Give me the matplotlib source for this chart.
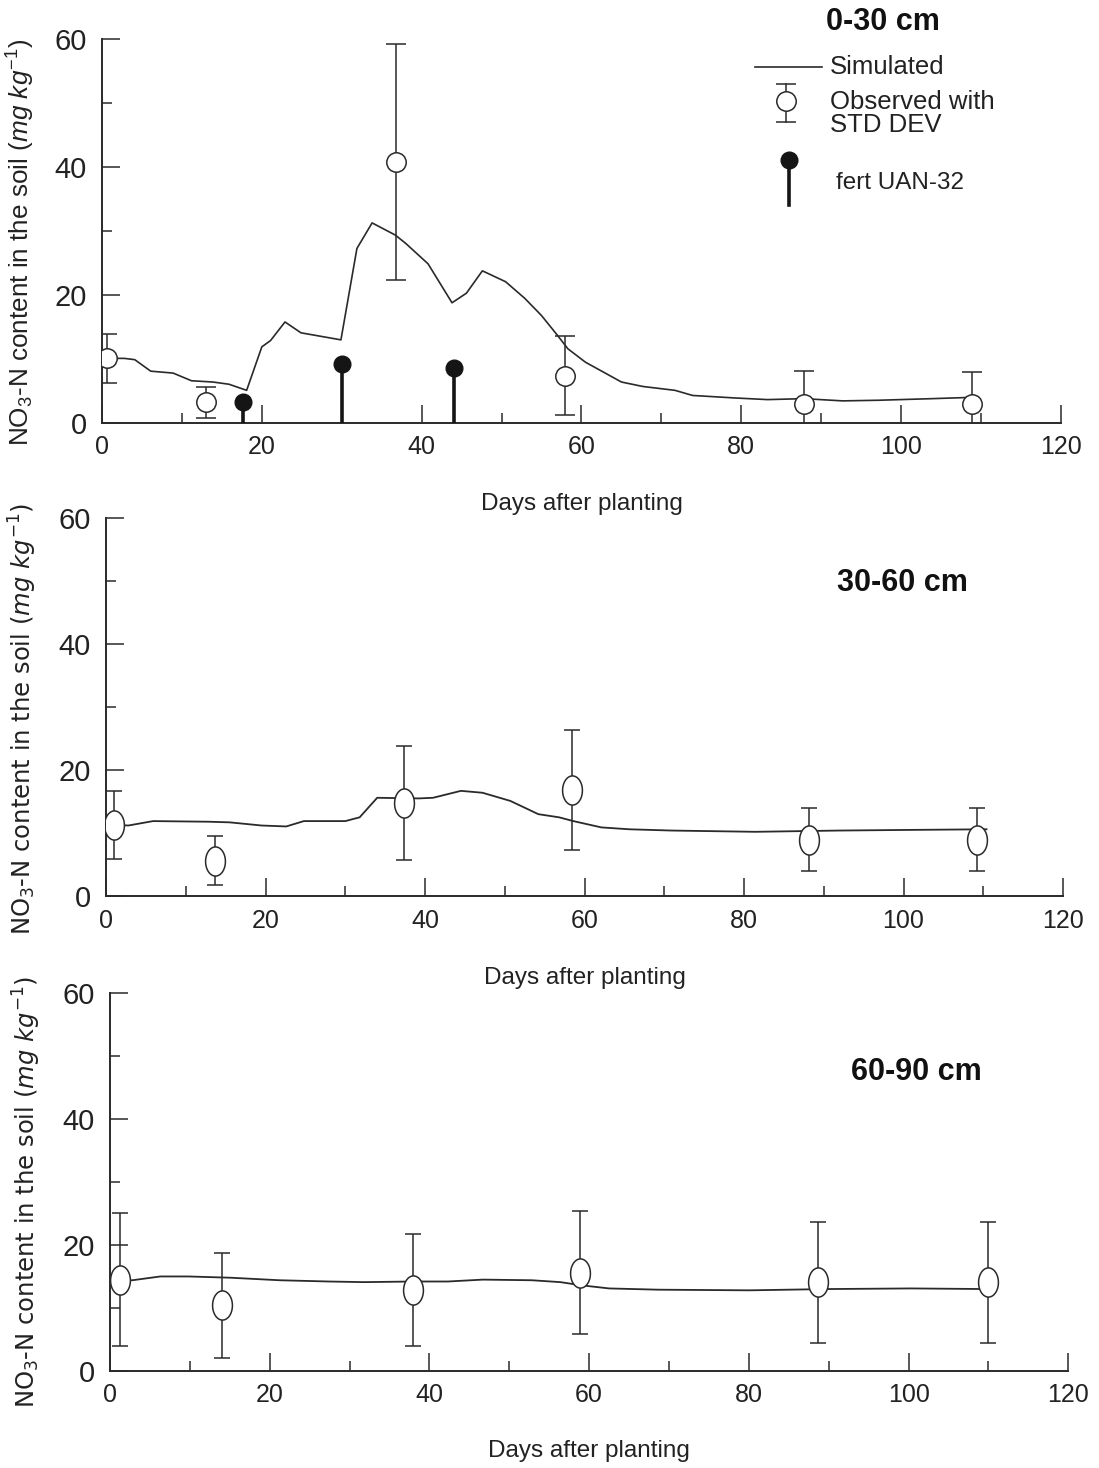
import numpy as np
import matplotlib
matplotlib.use("Agg")
import matplotlib.pyplot as plt
from matplotlib.path import Path
from matplotlib import font_manager

# ---- data ----
x_ticks = [0, 20, 40, 60, 80, 100, 120]
y_ticks = [0, 20, 40, 60]

# 0-30 cm
sim1_day = [0.4, 2.8, 4.1, 6.1, 8.9, 11.2, 13.9, 15.9, 18.1, 20.0, 21.1, 22.9, 24.9, 29.9,
            31.9, 33.8, 36.7, 38.0, 40.8, 43.8, 45.6, 47.6, 50.5, 52.9, 55.0, 57.0, 58.3,
            60.5, 65.0, 67.7, 71.7, 73.9, 79.3, 83.3, 87.8, 92.7, 97.2, 103.9, 108.8]
sim1_no3 = [10.1, 10.1, 9.9, 8.1, 7.8, 6.6, 6.4, 6.05, 5.1, 11.9, 12.9, 15.8, 14.1, 13.0,
            27.3, 31.3, 29.4, 28.1, 24.9, 18.8, 20.3, 23.8, 22.1, 19.5, 16.8, 13.7, 11.6,
            9.5, 6.4, 5.7, 5.1, 4.3, 3.9, 3.65, 3.8, 3.45, 3.55, 3.8, 4.0]
obs1_day = [0.6, 13.0, 36.8, 57.9, 87.8, 108.9]
obs1_no3 = [10.1, 3.2, 40.8, 7.4, 3.0, 2.9]
obs1_std = [3.8, 2.5, 18.5, 6.2, 5.1, 5.0]
fert_day = [17.6, 30.0, 44.1]
fert_amt = [3.2, 9.2, 8.6]

# 30-60 cm
sim2_day = [1.0, 2.8, 5.9, 12.9, 15.5, 19.5, 22.6, 24.8, 30.0, 31.8, 34.0, 39.2, 41.0,
            44.5, 47.2, 50.7, 54.2, 56.8, 58.6, 62.1, 65.6, 70.9, 81.4, 91.9, 100.7, 110.4]
sim2_no3 = [11.3, 11.2, 11.9, 11.8, 11.7, 11.2, 11.05, 11.9, 11.9, 12.5, 15.6, 15.5, 15.6,
            16.7, 16.4, 15.1, 13.0, 12.5, 11.9, 10.9, 10.6, 10.4, 10.2, 10.4, 10.5, 10.6]
obs2_day = [1.0, 13.6, 37.3, 58.4, 88.1, 109.2]
obs2_no3 = [11.3, 5.6, 14.8, 16.8, 8.9, 8.9]
obs2_std = [5.4, 3.9, 9.0, 9.5, 5.0, 5.0]

# 60-90 cm
sim3_day = [1.5, 2.8, 6.3, 9.8, 15.1, 21.2, 27.4, 31.8, 37.9, 42.3, 46.7, 52.8, 56.4,
            59.0, 62.5, 68.7, 80.1, 89.7, 100.3, 109.9]
sim3_no3 = [14.4, 14.4, 15.0, 15.0, 14.8, 14.4, 14.2, 14.1, 14.2, 14.2, 14.5, 14.4, 14.1,
            13.6, 13.1, 12.9, 12.8, 13.0, 13.1, 13.0]
obs3_day = [1.3, 14.0, 37.9, 58.8, 88.7, 109.9]
obs3_no3 = [14.5, 10.4, 12.9, 15.6, 14.1, 14.1]
obs3_std = [10.6, 8.4, 8.9, 9.75, 9.6, 9.6]

depth_labels = ["0-30 cm", "30-60 cm", "60-90 cm"]
x_label = "Days after planting"
y_label = r"$\mathrm{NO_3}$-N content in the soil ($\mathit{mg\ kg}^{-1}$)"


def has_font(name):
    try:
        font_manager.findfont(font_manager.FontProperties(family=name), fallback_to_default=False)
        return True
    except ValueError:
        return False


narrow = "Liberation Sans Narrow" if has_font("Liberation Sans Narrow") else None

plt.rcParams["font.family"] = ["Liberation Sans", "DejaVu Sans"]
plt.rcParams["mathtext.fontset"] = "custom"
plt.rcParams["mathtext.rm"] = "Liberation Sans"
plt.rcParams["mathtext.it"] = "Liberation Sans:italic"

ink = "#2a2a2a"
fig = plt.figure(figsize=(10.99, 14.68), dpi=100)

ax1 = fig.add_axes([0.0928, 0.7119, 0.8726, 0.2612])
ax2 = fig.add_axes([0.0965, 0.3896, 0.8708, 0.2575])
ax3 = fig.add_axes([0.1001, 0.0661, 0.8720, 0.2575])

theta = np.linspace(0, 2 * np.pi, 61)
ellipse = Path(np.column_stack([0.68 * np.cos(theta), np.sin(theta)]), closed=True)


def setup(ax, fam, ysize, xsize):
    ax.set_xlim(0, 120)
    ax.set_ylim(0, 60)
    for side in ["top", "right"]:
        ax.spines[side].set_visible(False)
    for side in ["left", "bottom"]:
        ax.spines[side].set_linewidth(1.4)
        ax.spines[side].set_color(ink)
    ax.set_xticks(x_ticks, [str(t) for t in x_ticks], fontsize=xsize, family=fam, color="#222222")
    ax.set_yticks(y_ticks, [str(t) for t in y_ticks], fontsize=ysize, family=fam, color="#222222")
    ax.set_xticks(np.arange(10, 120, 20), minor=True)
    ax.set_yticks(np.arange(10, 60, 20), minor=True)
    ax.tick_params(which="major", direction="in", length=13, width=1.1, color=ink)
    ax.tick_params(which="minor", direction="in", length=7, width=1.1, color=ink)
    ax.tick_params(axis="x", which="major", pad=9)
    ax.tick_params(axis="y", which="major", pad=11)


# ---- panel 1 ----
setup(ax1, "Liberation Sans", 21, 18)
ax1.plot(sim1_day, sim1_no3, color=ink, lw=1.2)
ax1.errorbar(obs1_day, obs1_no3, yerr=obs1_std, fmt="o", ms=14, mfc="white", mec=ink, mew=1.1,
             ecolor=ink, elinewidth=1.1, capsize=7, capthick=1.1, zorder=3)
ax1.vlines(fert_day, 0, fert_amt, color="#151515", lw=2.6, zorder=4)
ax1.plot(fert_day, fert_amt, "o", ms=12, color="#151515", zorder=5)
ax1.set_xlabel(x_label, fontsize=17.5, color="#222222", va="top")
ax1.xaxis.set_label_coords(0.5, -0.183)
ax1.set_ylabel(y_label, fontsize=18.8, color="#222222")
ax1.yaxis.set_label_coords(-0.068, 0.472)
ax1.text(0.814, 1.046, depth_labels[0], transform=ax1.transAxes, fontsize=22,
         fontweight="bold", ha="center", va="center", color="#111111")

# hand-made key
tr = ax1.transAxes
ax1.plot([0.681, 0.751], [0.928, 0.928], transform=tr, color=ink, lw=1.2, clip_on=False)
ax1.text(0.759, 0.928, "Simulated", transform=tr, fontsize=18.5, va="center", color="#222222")
ax1.plot([0.713, 0.713], [0.785, 0.884], transform=tr, color=ink, lw=1.1, clip_on=False)
ax1.plot([0.713, 0.713], [0.785, 0.884], "_", ms=14, mew=1.1, transform=tr, color=ink, clip_on=False)
ax1.plot([0.713], [0.840], "o", ms=14, mfc="white", mec=ink, mew=1.1, transform=tr, clip_on=False)
ax1.text(0.759, 0.807, "Observed with\nSTD DEV", transform=tr, fontsize=18.5, va="center",
         linespacing=0.95, color="#222222")
ax1.plot([0.716, 0.716], [0.568, 0.686], transform=tr, color="#151515", lw=2.6, clip_on=False)
ax1.plot([0.716], [0.686], "o", ms=12, color="#151515", transform=tr, clip_on=False)
ax1.text(0.765, 0.626, "fert UAN-32", transform=tr, fontsize=17.5, va="center", color="#222222")

# ---- panels 2 and 3 ----
tick_fam = narrow if narrow else "Liberation Sans"
ysz, xsz, tsz, lsz = (23, 20, 25, 21) if narrow else (21, 18, 22, 17.5)
panels = [(ax2, sim2_day, sim2_no3, obs2_day, obs2_no3, obs2_std, (0.832, 0.828), -0.188, 0.468),
          (ax3, sim3_day, sim3_no3, obs3_day, obs3_no3, obs3_std, (0.841, 0.791), -0.183, 0.474)]
for i, (ax, sd, sv, od, ov, ostd, tpos, xl_y, yl_y) in enumerate(panels):
    setup(ax, tick_fam, ysz, xsz)
    ax.plot(sd, sv, color=ink, lw=1.3)
    ax.errorbar(od, ov, yerr=ostd, fmt="none", ecolor=ink, elinewidth=1.1, capsize=6,
                capthick=1.1, zorder=3)
    ax.plot(od, ov, marker=ellipse, ls="none", ms=21, mfc="white", mec=ink, mew=1.1, zorder=4)
    ax.set_xlabel(x_label, fontsize=lsz, family=tick_fam, color="#222222", va="top")
    ax.xaxis.set_label_coords(0.5, xl_y)
    ax.set_ylabel(y_label, fontsize=17.5, family="DejaVu Sans", math_fontfamily="dejavusans",
                  color="#222222")
    ax.yaxis.set_label_coords(-0.070, yl_y)
    ax.text(tpos[0], tpos[1], depth_labels[i + 1], transform=ax.transAxes, fontsize=tsz,
            family=tick_fam, fontweight="bold", ha="center", va="center", color="#111111")

fig.savefig("out.png", dpi=100, facecolor="white")
